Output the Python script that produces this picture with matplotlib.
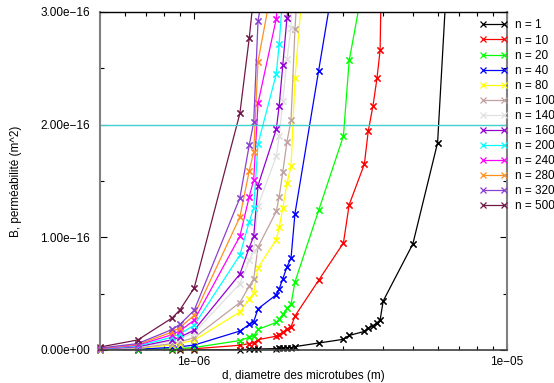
import numpy as np
import matplotlib.pyplot as plt
from matplotlib.ticker import FixedLocator, LogLocator, NullFormatter

plt.rcParams['font.family'] = ['Liberation Sans', 'DejaVu Sans']
plt.rcParams['font.size'] = 8.5

# diametres des microtubes (micrometres)
d_um = [0.50, 0.66, 0.85, 0.90, 1.00, 1.40, 1.50, 1.55, 1.60, 1.83, 1.87, 1.92, 1.98, 2.04,
        2.10, 2.50, 3.00, 3.13, 3.50, 3.60, 3.73, 3.84, 3.93, 4.02, 5.00, 6.00, 7.00]

# permeabilite B (unites de 1e-18 m^2), une liste par n
B_1 = [0.0053, 0.0178, 0.0568, 0.071, 0.110, 0.421, 0.568, 0.630, 0.914, 1.23, 1.36, 1.58, 1.85, 2.04,
       3.02, 6.19, 9.50, 12.9, 16.5, 19.4, 21.7, 24.1, 26.6, 43.5, 94.1, 184, 515]
B_10 = [0.053, 0.178, 0.568, 0.71, 1.10, 4.21, 5.68, 6.30, 9.14, 12.3, 13.6, 15.8, 18.5, 20.4,
        30.2, 61.9, 95.0, 129, 165, 194, 217, 241, 266, 435]
B_20 = [0.106, 0.356, 1.14, 1.42, 2.20, 8.42, 11.4, 12.6, 18.3, 24.5, 27.2, 31.6, 36.9, 40.8,
        60.4, 124, 190, 257, 330]
B_40 = [0.212, 0.712, 2.27, 2.84, 4.40, 16.8, 22.7, 25.2, 36.6, 49.0, 54.3, 63.2, 73.8, 81.6,
        121, 248, 380]
B_80 = [0.424, 1.42, 4.54, 5.68, 8.80, 33.7, 45.4, 50.4, 73.1, 98.0, 109, 126, 148, 163, 241, 495]
B_100 = [0.53, 1.78, 5.68, 7.1, 11.0, 42.1, 56.8, 63.0, 91.4, 123, 136, 158, 185, 204, 285, 619]
B_140 = [0.742, 2.49, 7.95, 9.94, 15.4, 58.9, 79.5, 88.2, 128, 172, 190, 221, 258, 286, 423]
B_160 = [0.848, 2.85, 9.09, 11.4, 17.6, 67.4, 90.9, 101, 146, 196, 217, 253, 295, 327]
B_200 = [1.06, 3.56, 11.4, 14.2, 22.0, 84.2, 114, 126, 183, 245, 272, 316]
B_240 = [1.27, 4.27, 13.6, 17.0, 26.4, 101, 136, 151, 219, 294, 326]
B_280 = [1.48, 4.98, 15.9, 19.9, 30.8, 118, 159, 176, 256, 343]
B_320 = [1.70, 5.70, 18.2, 22.7, 35.2, 135, 182, 202, 292, 392]
B_500 = [2.65, 8.9, 28.4, 35.5, 55.0, 210, 277, 315]

n_values = [1, 10, 20, 40, 80, 100, 140, 160, 200, 240, 280, 320, 500]
B_all = [B_1, B_10, B_20, B_40, B_80, B_100, B_140, B_160, B_200, B_240, B_280, B_320, B_500]
colors = ['black', '#ff0000', '#00ff00', '#0000ff', '#ffff00', '#c0a0a0', '#e0e0e0',
          '#9400d3', '#00ffff', '#ff00ff', '#ff9020', '#8a40d0', '#701848']

B_limite = 2e-16
ymax = 3e-16

fig = plt.figure(figsize=(5.54, 3.83), dpi=100)
ax = fig.add_axes([100 / 554, 33 / 383, 407 / 554, 338 / 383])

for n, B, c in zip(n_values, B_all, colors):
    d = np.array(d_um[:len(B)]) * 1e-6
    B = np.array(B) * 1e-18
    ax.plot(d, B, color=c, lw=0.9, marker='x', ms=4.5, mew=0.9, label=f'n = {n}')
    # gnuplot ne coupe pas les points sur le bord
    ok = B <= ymax
    ax.plot(d[ok], B[ok], ls='none', color=c, marker='x', ms=4.5, mew=0.9, clip_on=False)

ax.axhline(B_limite, color='#40d0d0', lw=1)

ax.set_xscale('log')
ax.set_xlim(5e-7, 1e-5)
ax.set_ylim(0, ymax)

ax.xaxis.set_major_locator(FixedLocator([1e-6, 1e-5]))
ax.set_xticklabels(['1e\u221206', '1e\u221205'])
ax.xaxis.set_minor_locator(LogLocator(base=10, subs=np.arange(2, 10)))
ax.xaxis.set_minor_formatter(NullFormatter())

ax.yaxis.set_major_locator(FixedLocator([0, 1e-16, 2e-16, 3e-16]))
ax.set_yticklabels(['0.00e+00', '1.00e\u221216', '2.00e\u221216', '3.00e\u221216'])
ax.yaxis.set_minor_locator(FixedLocator([0.5e-16, 1.5e-16, 2.5e-16]))

ax.tick_params(which='both', direction='in', top=True, right=True, width=0.8)
ax.tick_params(which='major', length=5)
ax.tick_params(which='minor', length=3)
ax.tick_params(axis='y', pad=7)
ax.tick_params(axis='x', pad=4)

for side in ['left', 'right']:
    ax.spines[side].set_color('#808080')
    ax.spines[side].set_linewidth(1.5)
ax.spines['top'].set_linewidth(1)
ax.spines['bottom'].set_color('#404040')
ax.spines['bottom'].set_linewidth(1.2)

fig.text(16 / 554, 1 - 181 / 383, 'B, perméabilité (m^2)', rotation=90, ha='center', va='center')
fig.text(303 / 554, 1 - 376 / 383, 'd, diametre des microtubes (m)', ha='center', va='center')

ax.legend(loc='upper left', bbox_to_anchor=(479 / 554, 1 - 19.5 / 383),
          bbox_transform=fig.transFigure, frameon=False, numpoints=2,
          handlelength=2.45, handletextpad=0.6, labelspacing=0.26,
          borderpad=0, borderaxespad=0)

fig.savefig('out.png', dpi=100)
